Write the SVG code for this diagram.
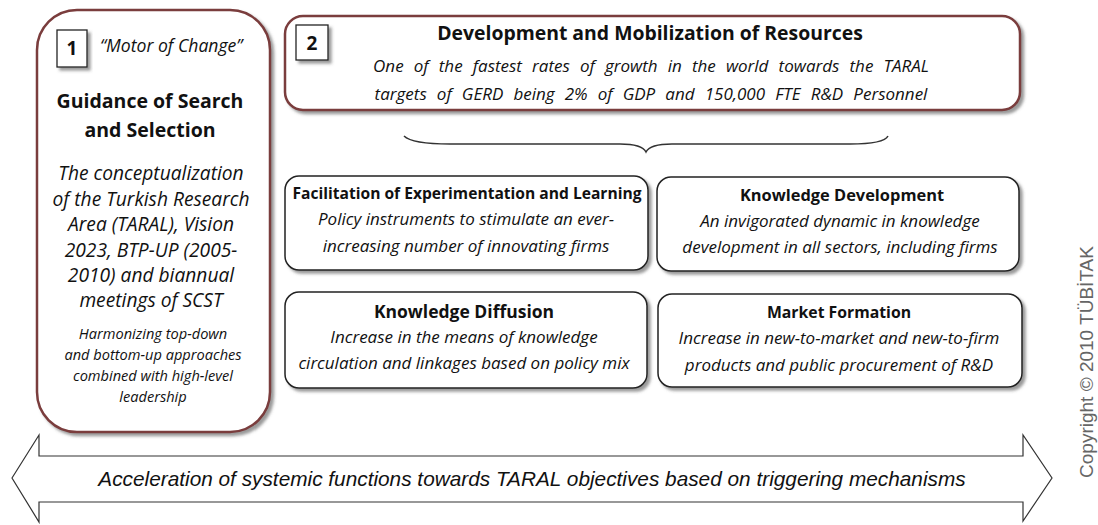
<svg xmlns="http://www.w3.org/2000/svg" width="1098" height="525" viewBox="0 0 1098 525">
<defs>
<filter id="sh" x="-10%" y="-10%" width="130%" height="130%">
<feDropShadow dx="3" dy="3" stdDeviation="1.5" flood-color="#555" flood-opacity="0.6"/>
</filter>
<style>
.big{fill:#fff;stroke:#7a3c3c;stroke-width:2.5}
.box{fill:#fff;stroke:#222;stroke-width:1.5}
.badge{fill:#fff;stroke:#222;stroke-width:1.3}
text{font-family:"Open Sans","Noto Sans",sans-serif;fill:#111;text-anchor:middle}
.t{font-weight:bold;font-size:16px}
.i{font-style:italic;font-size:17px}
.i1{font-style:italic;font-size:19.2px}
.s{font-style:italic;font-size:14.6px}
.n{font-weight:bold;font-size:19px}
.ar{font-family:"Liberation Sans",Arial,sans-serif;font-style:italic;font-size:20.8px}
</style>
</defs>

<g id="node-guidance">
<rect class="big" x="37" y="10" width="233" height="422" rx="40" filter="url(#sh)"/>
<rect class="badge" x="57" y="30" width="30" height="37" filter="url(#sh)"/>
<text class="n" x="72" y="55">1</text>
<text class="i" x="100" y="52" style="text-anchor:start;font-size:17.6px">“Motor of Change”</text>
<text class="t" x="150" y="108" style="font-size:19.5px">Guidance of Search</text>
<text class="t" x="150" y="137" style="font-size:19.5px">and Selection</text>
<text class="i1" x="151" y="180">The conceptualization</text>
<text class="i1" x="151" y="206">of the Turkish Research</text>
<text class="i1" x="151" y="231">Area (TARAL), Vision</text>
<text class="i1" x="151" y="257">2023, BTP-UP (2005-</text>
<text class="i1" x="151" y="282">2010) and biannual</text>
<text class="i1" x="151" y="307">meetings of SCST</text>
<text class="s" x="153" y="339">Harmonizing top-down</text>
<text class="s" x="153" y="360">and bottom-up approaches</text>
<text class="s" x="153" y="381">combined with high-level</text>
<text class="s" x="153" y="402">leadership</text>
</g>

<g id="node-resources">
<rect class="big" x="285" y="16" width="735" height="94" rx="18" filter="url(#sh)"/>
<rect class="badge" x="296" y="25" width="32" height="35" filter="url(#sh)"/>
<text class="n" x="312" y="50">2</text>
<text class="t" x="650" y="40" style="font-size:19.4px">Development and Mobilization of Resources</text>
<text class="i" x="651" y="72" word-spacing="5.7">One of the fastest rates of growth in the world towards the TARAL</text>
<text class="i" x="651" y="100" word-spacing="5.7">targets of GERD being 2% of GDP and 150,000 FTE R&amp;D Personnel</text>
</g>

<g id="connectors">
<path d="M404,136 Q412,144 450,144 L620,144 Q642,144 646,152 Q650,144 672,144 L850,144 Q884,144 888,136" fill="none" stroke="#333" stroke-width="1.5"/>
</g>

<g id="node-fel">
<rect class="box" x="285" y="176" width="363" height="94" rx="14" filter="url(#sh)"/>
<text class="t" x="467" y="199" style="font-size:15.6px">Facilitation of Experimentation and Learning</text>
<text class="i" x="466" y="225">Policy instruments to stimulate an ever-</text>
<text class="i" x="466" y="252">increasing number of innovating firms</text>
</g>

<g id="node-kd">
<rect class="box" x="657" y="177" width="362" height="94" rx="14" filter="url(#sh)"/>
<text class="t" x="842" y="201" style="font-size:16.4px">Knowledge Development</text>
<text class="i" x="840" y="227">An invigorated dynamic in knowledge</text>
<text class="i" x="840" y="253">development in all sectors, including firms</text>
</g>

<g id="node-kdiff">
<rect class="box" x="285" y="292" width="362" height="96" rx="14" filter="url(#sh)"/>
<text class="t" x="464" y="318" style="font-size:17.5px">Knowledge Diffusion</text>
<text class="i" x="464" y="343">Increase in the means of knowledge</text>
<text class="i" x="464" y="369">circulation and linkages based on policy mix</text>
</g>

<g id="node-mf">
<rect class="box" x="658" y="294" width="364" height="93" rx="14" filter="url(#sh)"/>
<text class="t" x="839" y="318" style="font-size:15.8px">Market Formation</text>
<text class="i" x="839" y="344">Increase in new-to-market and new-to-firm</text>
<text class="i" x="839" y="371">products and public procurement of R&amp;D</text>
</g>

<g id="node-acceleration">
<path d="M12,478 L39,435 L39,456 L1023,456 L1023,435 L1052,478 L1023,521 L1023,502 L39,502 L39,522 Z" fill="#fff" stroke="#333" stroke-width="1.2"/>
<text class="ar" x="532" y="486">Acceleration of systemic functions towards TARAL objectives based on triggering mechanisms</text>
</g>

<text x="1093" y="362" transform="rotate(-90 1093 362)" style="fill:#666;font-family:'Liberation Sans',Arial,sans-serif;font-size:19px">Copyright © 2010 TÜBİTAK</text>
</svg>
